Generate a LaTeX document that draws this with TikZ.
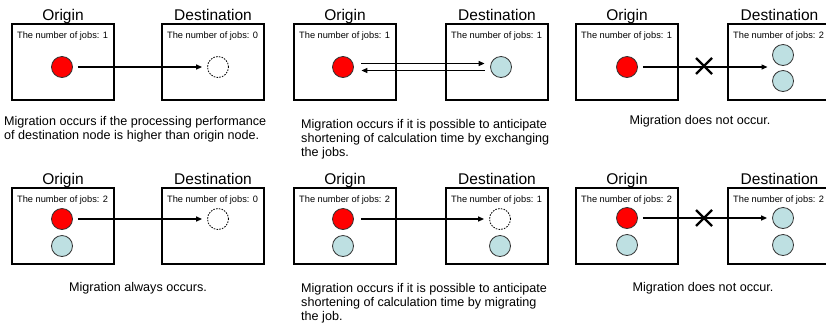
\documentclass[tikz,border=0pt]{standalone}
\usepackage{fontspec}
\setmainfont{Liberation Sans}
\usetikzlibrary{arrows.meta,calc}
\definecolor{jobred}{RGB}{255,0,0}
\definecolor{jobblue}{RGB}{190,224,226}
\definecolor{rimgray}{RGB}{50,50,50}
\tikzset{
  hostbox/.style={draw,line width=1.2pt,minimum width=102pt,minimum height=76pt,
    inner sep=0pt,outer sep=0pt,anchor=north west},
  titletext/.style={anchor=base,inner sep=0pt,font=\fontsize{15.5}{18}\selectfont},
  jobtext/.style={anchor=base west,inner sep=0pt,font=\fontsize{9.25}{11}\selectfont},
  captext/.style={inner sep=0pt,align=left,font=\fontsize{12.6}{14.3}\selectfont},
  job/.style={circle,draw=rimgray,line width=0.8pt,minimum size=21pt,inner sep=0pt},
  redjob/.style={job,fill=jobred},
  bluejob/.style={job,fill=jobblue},
  emptyjob/.style={job,draw=black,fill=white,dash pattern=on 1.6pt off 1.2pt},
  mig/.style={line width=1.3pt,-{Triangle[length=6pt,width=5pt]},shorten <=5pt,shorten >=5pt},
  crossmark/.style={line width=2.2pt},
}
\begin{document}
\begin{tikzpicture}[x=1pt,y=-1pt]
\useasboundingbox (0,0) rectangle (826,325);
\clip (0,0) rectangle (826,325);

% ---------- Panel 1 (top left)
\node[hostbox] (o1) at (12,24) {};
\node[hostbox] (d1) at (162,24) {};
\node[titletext] (to1) at ($(o1.north)+(0,-4)$) {Origin};
\node[titletext] (td1) at ($(d1.north)+(0,-4)$) {Destination};
\node[jobtext] (jo1) at ($(o1.north west)+(5,14)$) {The number of jobs: 1};
\node[jobtext] (jd1) at ($(d1.north west)+(5,14)$) {The number of jobs: 0};
\node[redjob] (r1) at (62,67) {};
\node[emptyjob] (e1) at (218,67) {};
\draw[mig] (r1) -- (e1);
\node[captext,anchor=base west] (c1) at (4,139.5) {Migration occurs if the processing performance\\of destination node is higher than origin node.};

% ---------- Panel 2 (top middle)
\node[hostbox] (o2) at (294,24) {};
\node[hostbox] (d2) at (446,24) {};
\node[titletext] (to2) at ($(o2.north)+(0,-4)$) {Origin};
\node[titletext] (td2) at ($(d2.north)+(0,-4)$) {Destination};
\node[jobtext] (jo2) at ($(o2.north west)+(5,14)$) {The number of jobs: 1};
\node[jobtext] (jd2) at ($(d2.north west)+(5,14)$) {The number of jobs: 1};
\node[redjob] (r2) at (343,67) {};
\node[bluejob] (b2) at (501,67) {};
\draw[mig,shorten <=0pt,shorten >=0pt] ($(r2.east)+(7.5,-3.5)$) -- ($(b2.west)+(-5.5,-3.5)$);
\draw[mig,shorten <=0pt,shorten >=0pt] ($(b2.west)+(-5.5,3.5)$) -- ($(r2.east)+(7.5,3.5)$);
\node[captext,anchor=base west] (c2) at (301,156.6) {Migration occurs if it is possible to anticipate\\shortening of calculation time by exchanging\\the jobs.};

% ---------- Panel 3 (top right)
\node[hostbox] (o3) at (576,24) {};
\node[hostbox,minimum width=103pt] (d3) at (728,24) {};
\node[titletext] (to3) at ($(o3.north)+(0,-4)$) {Origin};
\node[titletext] (td3) at ($(d3.north)+(0,-4)$) {Destination};
\node[jobtext] (jo3) at ($(o3.north west)+(5,14)$) {The number of jobs: 1};
\node[jobtext] (jd3) at ($(d3.north west)+(5,14)$) {The number of jobs: 2};
\node[redjob] (r3) at (627,67) {};
\node[bluejob] (b3a) at (783,55) {};
\node[bluejob] (b3b) at (783,81) {};
\coordinate (m3) at (783,67);
\draw[mig,shorten >=15.5pt] (r3) -- (m3);
\coordinate (x3) at (704,66);
\draw[crossmark] ($(x3)+(-8,-8)$) -- ($(x3)+(8,8)$) ($(x3)+(-8,8)$) -- ($(x3)+(8,-8)$);
\node[captext,anchor=base] (c3) at (700,124) {Migration does not occur.};

% ---------- Panel 4 (bottom left)
\node[hostbox] (o4) at (12,188) {};
\node[hostbox] (d4) at (162,188) {};
\node[titletext] (to4) at ($(o4.north)+(0,-4)$) {Origin};
\node[titletext] (td4) at ($(d4.north)+(0,-4)$) {Destination};
\node[jobtext] (jo4) at ($(o4.north west)+(5,14)$) {The number of jobs: 2};
\node[jobtext] (jd4) at ($(d4.north west)+(5,14)$) {The number of jobs: 0};
\node[redjob] (r4) at (62,219) {};
\node[bluejob] (b4) at (62,246) {};
\node[emptyjob] (e4) at (218,219) {};
\draw[mig] (r4) -- (e4);
\node[captext,anchor=base] (c4) at (138,291) {Migration always occurs.};

% ---------- Panel 5 (bottom middle)
\node[hostbox] (o5) at (294,188) {};
\node[hostbox] (d5) at (446,188) {};
\node[titletext] (to5) at ($(o5.north)+(0,-4)$) {Origin};
\node[titletext] (td5) at ($(d5.north)+(0,-4)$) {Destination};
\node[jobtext] (jo5) at ($(o5.north west)+(5,14)$) {The number of jobs: 2};
\node[jobtext] (jd5) at ($(d5.north west)+(5,14)$) {The number of jobs: 1};
\node[redjob] (r5) at (343,219) {};
\node[bluejob] (b5) at (343,246) {};
\node[emptyjob] (e5) at (500,219) {};
\node[bluejob] (f5) at (500,246) {};
\draw[mig,shorten <=7pt] (r5) -- (e5);
\node[captext,anchor=base west] (c5) at (301,320.6) {Migration occurs if it is possible to anticipate\\shortening of calculation time by migrating\\the job.};

% ---------- Panel 6 (bottom right)
\node[hostbox] (o6) at (576,188) {};
\node[hostbox,minimum width=103pt] (d6) at (728,188) {};
\node[titletext] (to6) at ($(o6.north)+(0,-4)$) {Origin};
\node[titletext] (td6) at ($(d6.north)+(0,-4)$) {Destination};
\node[jobtext] (jo6) at ($(o6.north west)+(5,14)$) {The number of jobs: 2};
\node[jobtext] (jd6) at ($(d6.north west)+(5,14)$) {The number of jobs: 2};
\node[redjob] (r6) at (627,218) {};
\node[bluejob] (b6) at (627,245) {};
\node[bluejob] (b6a) at (783,218) {};
\node[bluejob] (b6b) at (783,245) {};
\draw[mig] (r6) -- (b6a);
\coordinate (x6) at (704,218);
\draw[crossmark] ($(x6)+(-8,-8)$) -- ($(x6)+(8,8)$) ($(x6)+(-8,8)$) -- ($(x6)+(8,-8)$);
\node[captext,anchor=base] (c6) at (703,291) {Migration does not occur.};
\end{tikzpicture}
\end{document}
